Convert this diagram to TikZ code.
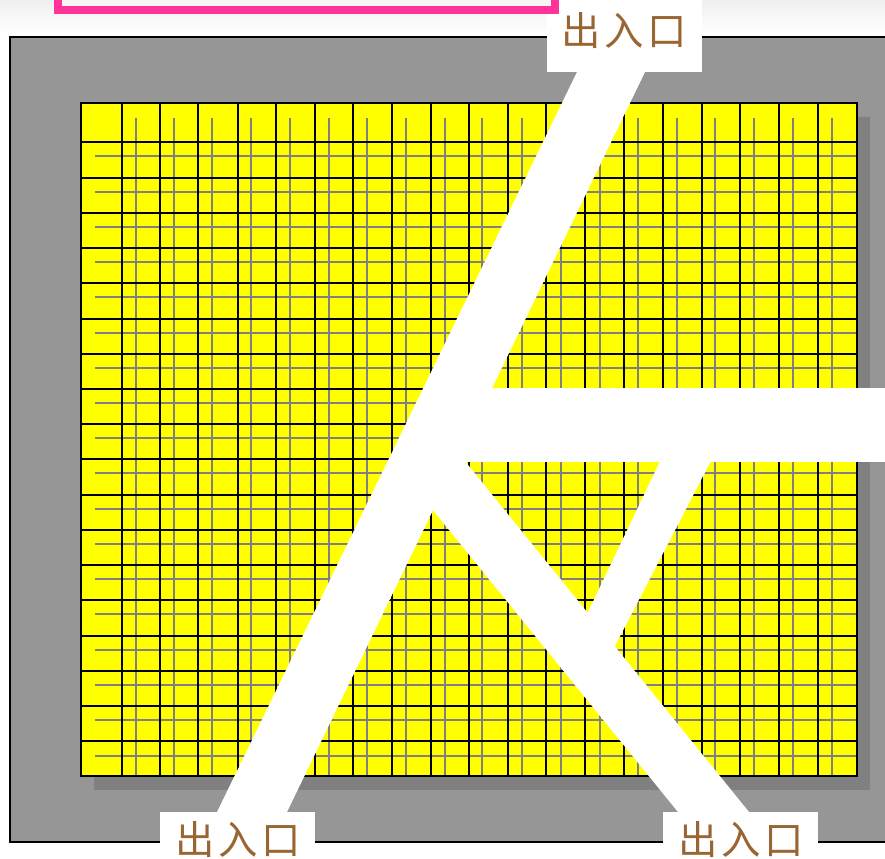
\documentclass[tikz,border=0pt]{standalone}
\usepackage{fontspec}
\newfontfamily\cjkfont[LetterSpace=9]{Noto Sans CJK SC}
\definecolor{backgrey}{HTML}{969696}
\definecolor{shadowgrey}{HTML}{808080}
\definecolor{padyellow}{HTML}{FFFF00}
\definecolor{framepink}{HTML}{FF3399}
\definecolor{labelbrown}{HTML}{996633}
\tikzset{
  blackline/.style={draw=black,line width=2bp},
  greyline/.style={draw=shadowgrey,line width=2bp},
  roadway/.style={fill=white,draw=none},
  labelbg/.style={fill=white,draw=none},
  entrylabel/.style={text=labelbrown,font=\cjkfont\fontsize{39.5}{39.5}\selectfont,inner sep=0pt,anchor=center}
}
\begin{document}
\begin{tikzpicture}[x=1bp,y=-1bp]
\useasboundingbox (0,0) rectangle (885,859);
\clip (0,0) rectangle (885,859);
\fill[white] (0,0) rectangle (885,859);
\shade[top color=black!6,bottom color=white] (0,0) rectangle (885,34);
% grey ground
\fill[backgrey] (10,37) rectangle (890,842);
\draw[black,line width=2bp] (890,37) -- (10,37) -- (10,842) -- (890,842);
% shadow
\fill[shadowgrey] (94,117) rectangle (870,790);
% pad
\fill[padyellow] (81,103) rectangle (857,776);
% grey grid
\foreach \x in {136,174,212,251,290,329,367,406,445,482,522,561,600,638,677,715,754,793,832} {
  \draw[greyline] (\x,118) -- (\x,790);
}
\foreach \y in {156,192,227,262,297,333,368,403,438,473,509,544,579,614,650,685,720,756} {
  \draw[greyline] (95,\y) -- (870,\y);
}
% black grid
\foreach \x in {122,160,198,238,276,315,353,392,431,469,508,546,585,624,663,702,740,779,818} {
  \draw[blackline] (\x,103) -- (\x,776);
}
\foreach \y in {142,178,213,248,283,319,354,389,424,459,495,530,565,600,636,671,706,741} {
  \draw[blackline] (81,\y) -- (857,\y);
}
\draw[black,line width=1.5bp] (81,103) rectangle (857,776);
% white roadways
\fill[roadway] (577,72) -- (645,72) -- (287,812) -- (217,812) -- cycle;
\fill[roadway] (440,388) rectangle (890,462);
\fill[roadway] (464,460) -- (749,812) -- (678,812) -- (432,509) -- (400,470) -- (440,440) -- cycle;
\fill[roadway] (663,455) -- (714,455) -- (615,646) -- (600,660) -- (575,625) -- (588,612) -- cycle;
% label plates
\fill[labelbg] (547,-5) rectangle (702,72);
\fill[labelbg] (160,812) rectangle (315,864);
\fill[labelbg] (663,812) rectangle (818,864);
% pink frame
\draw[framepink,line width=8bp,fill=black!4] (58,-20) rectangle (555,10);
\node[entrylabel] (top) at (624,31) {出入口};
\node[entrylabel] (left) at (238,840) {出入口};
\node[entrylabel] (right) at (741,840) {出入口};
\end{tikzpicture}
\end{document}
